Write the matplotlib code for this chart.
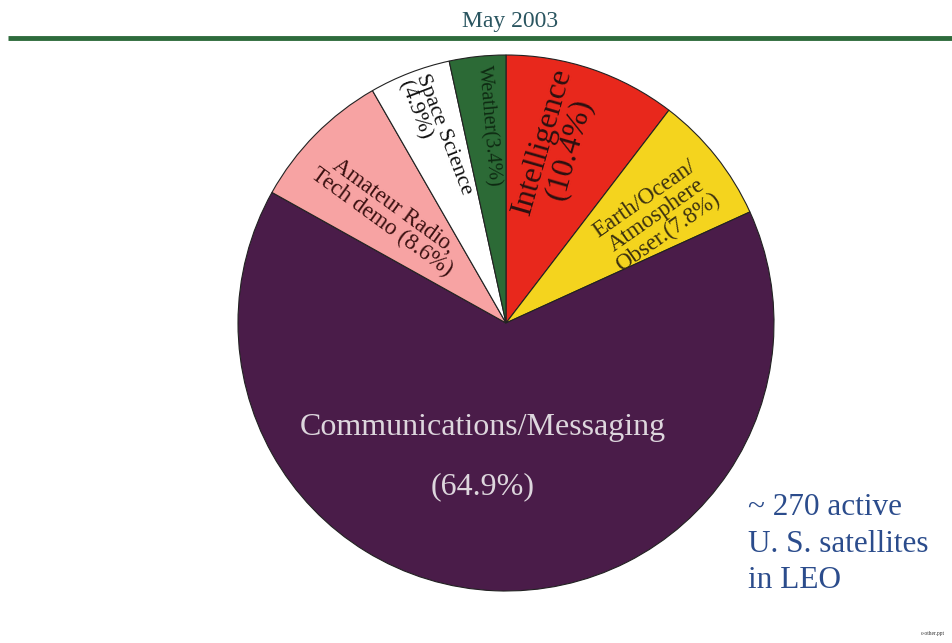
import numpy as np
import matplotlib
matplotlib.use("Agg")
import matplotlib.pyplot as plt

# Anteile der aktiven LEO-Satelliten (Mai 2003), im Uhrzeigersinn ab 12 Uhr
categories = ["Intelligence", "Earth/Ocean/Atmosphere", "Communications/Messaging",
              "Amateur Radio, Tech demo", "Space Science", "Weather"]
shares = [10.4, 7.8, 64.9, 8.6, 4.9, 3.4]
labels = ["Intelligence\n(10.4%)", "Earth/Ocean/\nAtmosphere\nObser.(7.8%)",
          "Communications/Messaging\n\n(64.9%)", "Amateur Radio,\nTech demo (8.6%)",
          "Space Science\n(4.9%)", "Weather(3.4%)"]
colors = ["#e8281c", "#f4d41e", "#4a1c49", "#f7a3a3", "#ffffff", "#2c6a36"]

plt.rcParams["font.family"] = ["Liberation Serif", "DejaVu Serif"]

fig = plt.figure(figsize=(9.53, 6.43), dpi=100)
ax = fig.add_axes([0, 0, 1, 1])

cx, cy, R = 506, 320, 268
wedges, _ = ax.pie(shares, colors=colors, startangle=90, counterclock=False,
                   center=(cx, cy), radius=R, frame=True,
                   wedgeprops=dict(edgecolor="#222222", linewidth=0.8))
ax.set_xlim(0, 953)
ax.set_ylim(0, 643)
ax.set_aspect("equal")
ax.axis("off")

# Beschriftungen entlang der Radien
mids = [(w.theta1 + w.theta2) / 2 for w in wedges]
rfrac = [0.69, 0.69, None, 0.60, 0.74, 0.74]
dang = [3, -3, 0, 2, 0, -1]
rot = [74, 35, 0, -36, -69, -85]
fsize = [23, 16.5, 23, 16.5, 16, 14.5]
malign = ["center", "center", "center", "center", "left", "center"]
tcol = ["#2a1010", "#3a3010", "#ddd6dd", "#3a1010", "#111111", "#0e2a12"]
for i, lab in enumerate(labels):
    if rfrac[i] is None:
        x, y = 483, 643 - 457
    else:
        a = np.deg2rad(mids[i] + dang[i])
        x = cx + rfrac[i] * R * np.cos(a)
        y = cy + rfrac[i] * R * np.sin(a)
    ax.text(x, y, lab, rotation=rot[i], rotation_mode="anchor", ha="center",
            va="center", multialignment=malign[i], fontsize=fsize[i], color=tcol[i],
            linespacing=0.95 if i != 2 else 1.02)

# Titel mit Linie
ax.text(510, 643 - 21, "May 2003", ha="center", va="center", fontsize=17, color="#2a5560")
ax.plot([8, 953], [643 - 38, 643 - 38], color="#2e6b3c", linewidth=3.5, solid_capstyle="butt")

ax.text(748, 643 - 544, "~ 270 active\nU. S. satellites\nin LEO", ha="left", va="center",
        fontsize=22.5, color="#2b4c8c", linespacing=1.33)
ax.text(945, 643 - 633, "c-other.ppt", ha="right", va="center", fontsize=4, color="#333333")

plt.savefig("out.png", dpi=100)
